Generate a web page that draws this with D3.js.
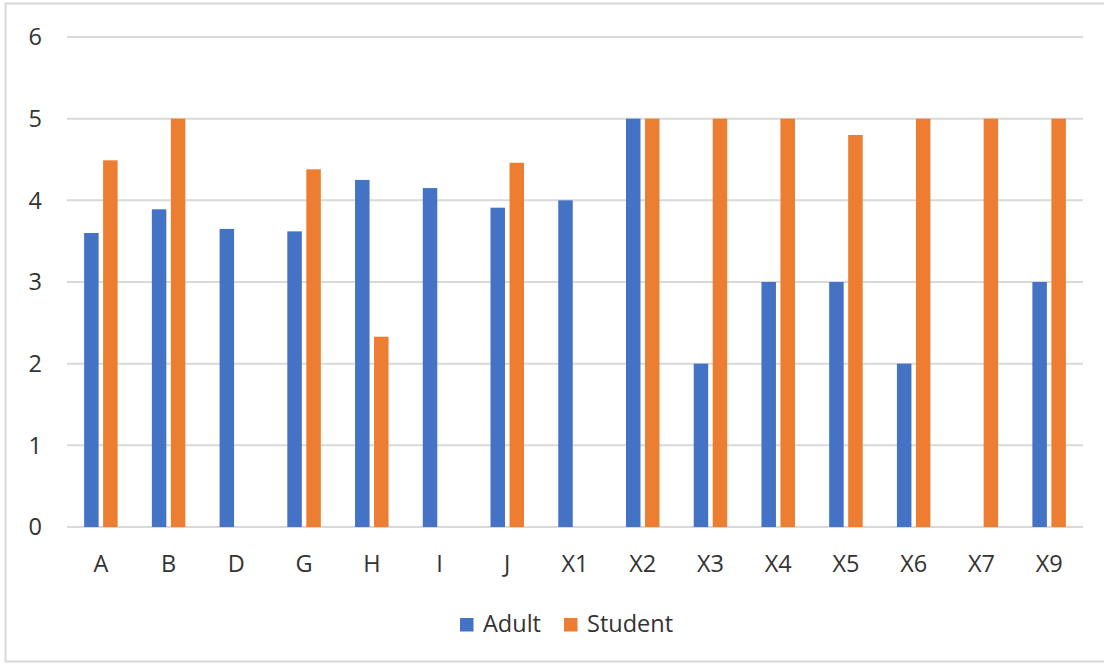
<!DOCTYPE html>
<html><head><meta charset="utf-8">
<script src="https://cdn.jsdelivr.net/npm/d3@7"></script>
<style>body{margin:0;background:#fff}svg{display:block}</style>
</head><body>
<svg id="c" width="1104" height="665"></svg>
<script>
const categories = ["A","B","D","G","H","I","J","X1","X2","X3","X4","X5","X6","X7","X9"];
const adult   = [3.60, 3.89, 3.65, 3.62, 4.25, 4.15, 3.91, 4.0, 5, 2, 3, 3, 2, null, 3];
const student = [4.49, 5, null, 4.38, 2.33, null, 4.46, null, 5, 5, 5, 4.8, 5, 5, 5];
const seriesNames = ["Adult","Student"];
const colors = ["#4472C4","#ED7D31"];
const yTicks = [0,1,2,3,4,5,6];

(function(){
const svg = d3.select("#c");
const font = "'Open Sans', 'Noto Sans', sans-serif";
const fs = 23.5, tc = "#333333";
svg.append("rect").attr("x",5.5).attr("y",3.5).attr("width",1110).attr("height",658)
  .attr("fill","#fff").attr("stroke","#d9d9d9").attr("stroke-width",2);

const pL = 67, pR = 1083, pT = 37, pB = 527;
const x = d3.scaleBand().domain(categories).range([pL,pR]);
const y = d3.scaleLinear().domain([0,6]).range([pB,pT]);

svg.append("g").selectAll("line").data(yTicks).join("line")
  .attr("x1",pL).attr("x2",pR).attr("y1",d=>y(d)).attr("y2",d=>y(d))
  .attr("stroke", "#d9d9d9").attr("stroke-width",2);

svg.append("g").selectAll("text").data(yTicks).join("text")
  .attr("x",42).attr("y",d=>y(d)).attr("dy","0.36em").attr("text-anchor","end")
  .attr("font-family",font).attr("font-size",fs).attr("fill",tc).text(d=>d);

svg.append("g").selectAll("text").data(categories).join("text")
  .attr("x",d=>x(d)+x.bandwidth()/2).attr("y",572).attr("text-anchor","middle")
  .attr("font-family",font).attr("font-size",fs).attr("fill",tc).text(d=>d);

const bw = 14.5, gap = 4.5;
const inner = d3.scaleOrdinal().domain([0,1]).range([-(bw+gap/2), gap/2]);
[adult, student].forEach((vals, si) => {
  svg.append("g").selectAll("rect").data(categories.map((c,i)=>({c, v: vals[i]})).filter(d=>d.v!=null))
    .join("rect")
    .attr("x", d => x(d.c) + x.bandwidth()/2 + inner(si))
    .attr("width", bw)
    .attr("y", d => y(d.v))
    .attr("height", d => y(0) - y(d.v))
    .attr("fill", colors[si]);
});

const leg = svg.append("g");
const legX = [460, 564];
seriesNames.forEach((n,i)=>{
  leg.append("rect").attr("x",legX[i]).attr("y",618).attr("width",13.5).attr("height",13.5).attr("fill",colors[i]);
  leg.append("text").attr("x",legX[i]+23).attr("y",632)
    .attr("font-family",font).attr("font-size",fs).attr("fill",tc).text(n);
});
})();
</script>
</body></html>
